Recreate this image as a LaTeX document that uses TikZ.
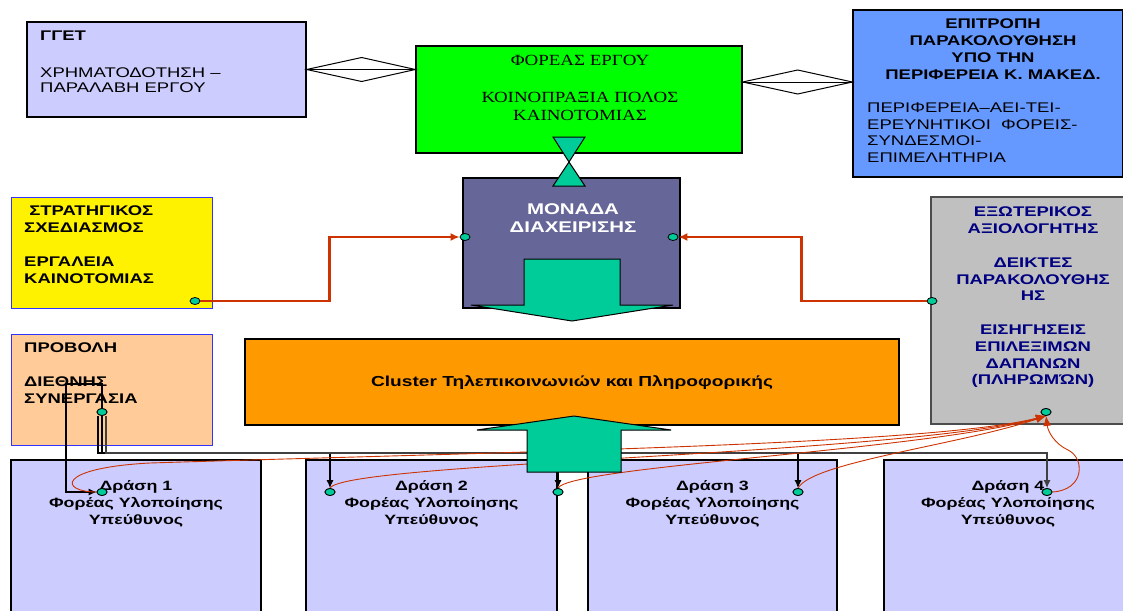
\documentclass[tikz,border=0pt]{standalone}
\usepackage{fontspec}
\setmainfont{Liberation Sans}[FakeStretch=1.32]
\newfontfamily\timesfont{Liberation Serif}[FakeStretch=1.22]
\usetikzlibrary{shapes.geometric,arrows.meta}
\definecolor{lav}{HTML}{CCCCFF}
\definecolor{brightgreen}{HTML}{00FF00}
\definecolor{skyblue}{HTML}{6699FF}
\definecolor{slate}{HTML}{666699}
\definecolor{peach}{HTML}{FFCC99}
\definecolor{amber}{HTML}{FF9900}
\definecolor{silver}{HTML}{C0C0C0}
\definecolor{teal}{HTML}{00CC99}
\definecolor{rust}{HTML}{CC3300}
\definecolor{navy}{HTML}{000080}
\definecolor{rim}{HTML}{3333FF}
\begin{document}
\begin{tikzpicture}[x=1pt,y=-1pt,
  plainbox/.style={draw,line width=1.3,rectangle,inner sep=0},
  txt/.style={inner sep=0,font=\fontsize{14}{16.8}\selectfont\bfseries,align=center,anchor=north},
  lefttxt/.style={inner sep=0,font=\fontsize{14}{16.8}\selectfont\bfseries,align=left,anchor=north west},
  knob/.style={ellipse,draw,fill=teal,minimum width=10,minimum height=7,inner sep=0,line width=0.8},
  blkline/.style={-{Latex[length=8pt,width=7pt]},line width=1.2},
  redthick/.style={-{Latex[length=9pt,width=8pt]},draw=rust,line width=2.4},
  redline/.style={-{Latex[length=10pt,width=8pt]},draw=rust,line width=0.9},
  bigarrow/.style={fill=teal,draw=black,line width=1},
  rhomb/.style={draw,line width=1}]
\useasboundingbox (0,0) rectangle (1123,610);
\node[plainbox,fill=lav,minimum width=279,minimum height=95] (gget) at (166.5,69.5) {};
\node[plainbox,fill=brightgreen,minimum width=326,minimum height=107] (foreas) at (579,99.5) {};
\node[plainbox,fill=skyblue,minimum width=270,minimum height=167] (epitropi) at (988,93.5) {};
\node[plainbox,fill=slate,minimum width=217,minimum height=130] (monada) at (571.5,243) {};
\node[plainbox,fill=yellow,draw=rim,line width=1,minimum width=201,minimum height=111] (strat) at (111.5,252.5) {};
\node[plainbox,fill=peach,draw=rim,line width=1,minimum width=201,minimum height=111] (provoli) at (111.5,389.5) {};
\node[plainbox,fill=amber,minimum width=654,minimum height=86] (cluster) at (572,382) {};
\node[plainbox,fill=silver,draw=black!70,minimum width=204,minimum height=227] (axiol) at (1033,310.5) {};
\node[plainbox,fill=lav,line width=2.4,minimum width=250,minimum height=160] (d1) at (136,540) {};
\node[plainbox,fill=lav,line width=2.4,minimum width=251,minimum height=160] (d2) at (431.5,540) {};
\node[plainbox,fill=lav,line width=2.4,minimum width=249,minimum height=160] (d3) at (712.5,540) {};
\node[plainbox,fill=lav,line width=2.4,minimum width=248,minimum height=160] (d4) at (1008,540) {};

\node[lefttxt,font=\fontsize{14}{15}\selectfont] (ggettxt) at (40,31) {\textbf{ΓΓΕΤ}\\[22pt]ΧΡΗΜΑΤΟΔΟΤΗΣΗ –\\ΠΑΡΑΛΑΒΗ ΕΡΓΟΥ};
\node[txt,font=\fontsize{15.5}{18.5}\timesfont] (foreastxt) at (580,55) {ΦΟΡΕΑΣ ΕΡΓΟΥ\\[18.5pt]ΚΟΙΝΟΠΡΑΞΙΑ ΠΟΛΟΣ\\ΚΑΙΝΟΤΟΜΙΑΣ};
\node[txt] (epitropitxt) at (993,19) {ΕΠΙΤΡΟΠΗ\\ΠΑΡΑΚΟΛΟΥΘΗΣΗ\\ΥΠΟ ΤΗΝ\\ΠΕΡΙΦΕΡΕΙΑ Κ. ΜΑΚΕΔ.};
\node[lefttxt,font=\fontsize{14}{16.5}\selectfont] (foreistxt) at (867,103) {ΠΕΡΙΦΕΡΕΙΑ–ΑΕΙ-ΤΕΙ-\\ΕΡΕΥΝΗΤΙΚΟΙ \ ΦΟΡΕΙΣ-\\ΣΥΝΔΕΣΜΟΙ-\\ΕΠΙΜΕΛΗΤΗΡΙΑ};
\node[txt,text=white,font=\fontsize{15.5}{18}\selectfont\bfseries] (monadatxt) at (573,203) {ΜΟΝΑΔΑ\\ΔΙΑΧΕΙΡΙΣΗΣ};
\node[lefttxt] (strattxt) at (24,206) {\ ΣΤΡΑΤΗΓΙΚΟΣ\\ΣΧΕΔΙΑΣΜΟΣ\\[16.8pt]ΕΡΓΑΛΕΙΑ\\ΚΑΙΝΟΤΟΜΙΑΣ};
\node[lefttxt] (provolitxt) at (24,343) {ΠΡΟΒΟΛΗ\\[16.8pt]ΔΙΕΘΝΗΣ\\ΣΥΝΕΡΓΑΣΙΑ};
\node[txt,text=navy] (axioltxt) at (1033,207) {ΕΞΩΤΕΡΙΚΟΣ\\ΑΞΙΟΛΟΓΗΤΗΣ\\[16.8pt]ΔΕΙΚΤΕΣ\\ΠΑΡΑΚΟΛΟΥΘΗΣ\\ΗΣ\\[16.8pt]ΕΙΣΗΓΗΣΕΙΣ\\ΕΠΙΛΕΞΙΜΩΝ\\ΔΑΠΑΝΩΝ\\(ΠΛΗΡΩΜΏΝ)};
\node[txt,anchor=center,font=\fontsize{14.5}{17}\selectfont\bfseries] (clustertxt) at (572,383) {Cluster Τηλεπικοινωνιών και Πληροφορικής};
\node[txt,font=\fontsize{13.5}{17}\selectfont\bfseries] (d1txt) at (136,480) {Δράση 1\\Φορέας Υλοποίησης\\Υπεύθυνος};
\node[txt,font=\fontsize{13.5}{17}\selectfont\bfseries] (d2txt) at (431.5,480) {Δράση 2\\Φορέας Υλοποίησης\\Υπεύθυνος};
\node[txt,font=\fontsize{13.5}{17}\selectfont\bfseries] (d3txt) at (712.5,480) {Δράση 3\\Φορέας Υλοποίησης\\Υπεύθυνος};
\node[txt,font=\fontsize{13.5}{17}\selectfont\bfseries] (d4txt) at (1008,480) {Δράση 4\\Φορέας Υλοποίησης\\Υπεύθυνος};

\coordinate (gr) at (gget.east -| foreas.west);
\draw[rhomb] (gget.east) -- (gr);
\draw[rhomb] (gget.east) -- ([shift={(55,-12)}]gget.east) -- (gr) -- ([shift={(55,12)}]gget.east) -- cycle;
\coordinate (fr) at ([yshift=17.5pt]foreas.east);
\coordinate (er) at (fr -| epitropi.west);
\draw[rhomb] (fr) -- (er);
\draw[rhomb] (fr) -- ([shift={(55,-12)}]fr) -- (er) -- ([shift={(55,12)}]fr) -- cycle;
\filldraw[bigarrow] (553,137) -- (585,137) -- (569,162) -- cycle;
\filldraw[bigarrow] (553,186) -- (585,186) -- (569,162) -- cycle;
\filldraw[bigarrow] (524,259) -- (620,259) -- (620,305) -- (673,305) -- (572,321) -- (471,305) -- (524,305) -- cycle;

\node[knob] (sdot) at (195,301) {};
\node[knob] (mleft) at (465,237) {};
\node[knob] (mright) at (673,237) {};
\node[knob] (adot) at (932,301) {};
\node[knob] (abot) at (1046,412) {};
\node[knob] (pdot) at (102,412) {};
\node[knob] (d1dot) at (102,492) {};
\node[knob] (d2dot) at (330,492) {};
\node[knob] (d2rdot) at (558,492) {};
\node[knob] (d3dot) at (798,492) {};
\node[knob] (d4dot) at (1047,492) {};

\draw[redthick] (sdot.east) -| ([xshift=-130]mleft.west) -- (mleft.west);
\draw[redthick] (adot.west) -| ([xshift=123]mright.east) -- (mright.east);

\draw[blkline] (pdot.north) |- (66,384) |- (d1dot.west);
\draw[blkline] ([xshift=-4]pdot.south) -- ++(0,37) -| (d2dot.north);
\draw[blkline] (pdot.south) -- ++(0,37) -| (d2rdot.north);
\draw[blkline] ([xshift=4]pdot.south) -- ++(0,37) -| (d3dot.north);
\draw[blkline,draw=black!75] ([xshift=4]pdot.south) -- ++(0,37) -| (d4dot.north);

\draw[redline] (d1dot.west) .. controls (60,492) and (55,468) .. (150,463) .. controls (500,452) and (930,445) .. (abot.south);
\draw[redline] (d2dot.north) .. controls (345,462) and (900,455) .. (abot.south);
\draw[redline] (d2rdot.north) .. controls (570,466) and (930,450) .. (abot.south);
\draw[redline] (d3dot.north) .. controls (812,462) and (960,445) .. (abot.south);
\draw[redline] (d4dot.east) .. controls (1085,490) and (1085,458) .. (1068,450) .. controls (1055,444) and (1048,432) .. (abot.south);

\filldraw[bigarrow] (527,472) -- (527,430) -- (477,430) -- (574,416) -- (671,430) -- (621,430) -- (621,472) -- cycle;
\foreach \k in {pdot,d1dot,d2dot,d2rdot,d3dot,d4dot,abot}
  \node[knob] at (\k) {};
\end{tikzpicture}
\end{document}
